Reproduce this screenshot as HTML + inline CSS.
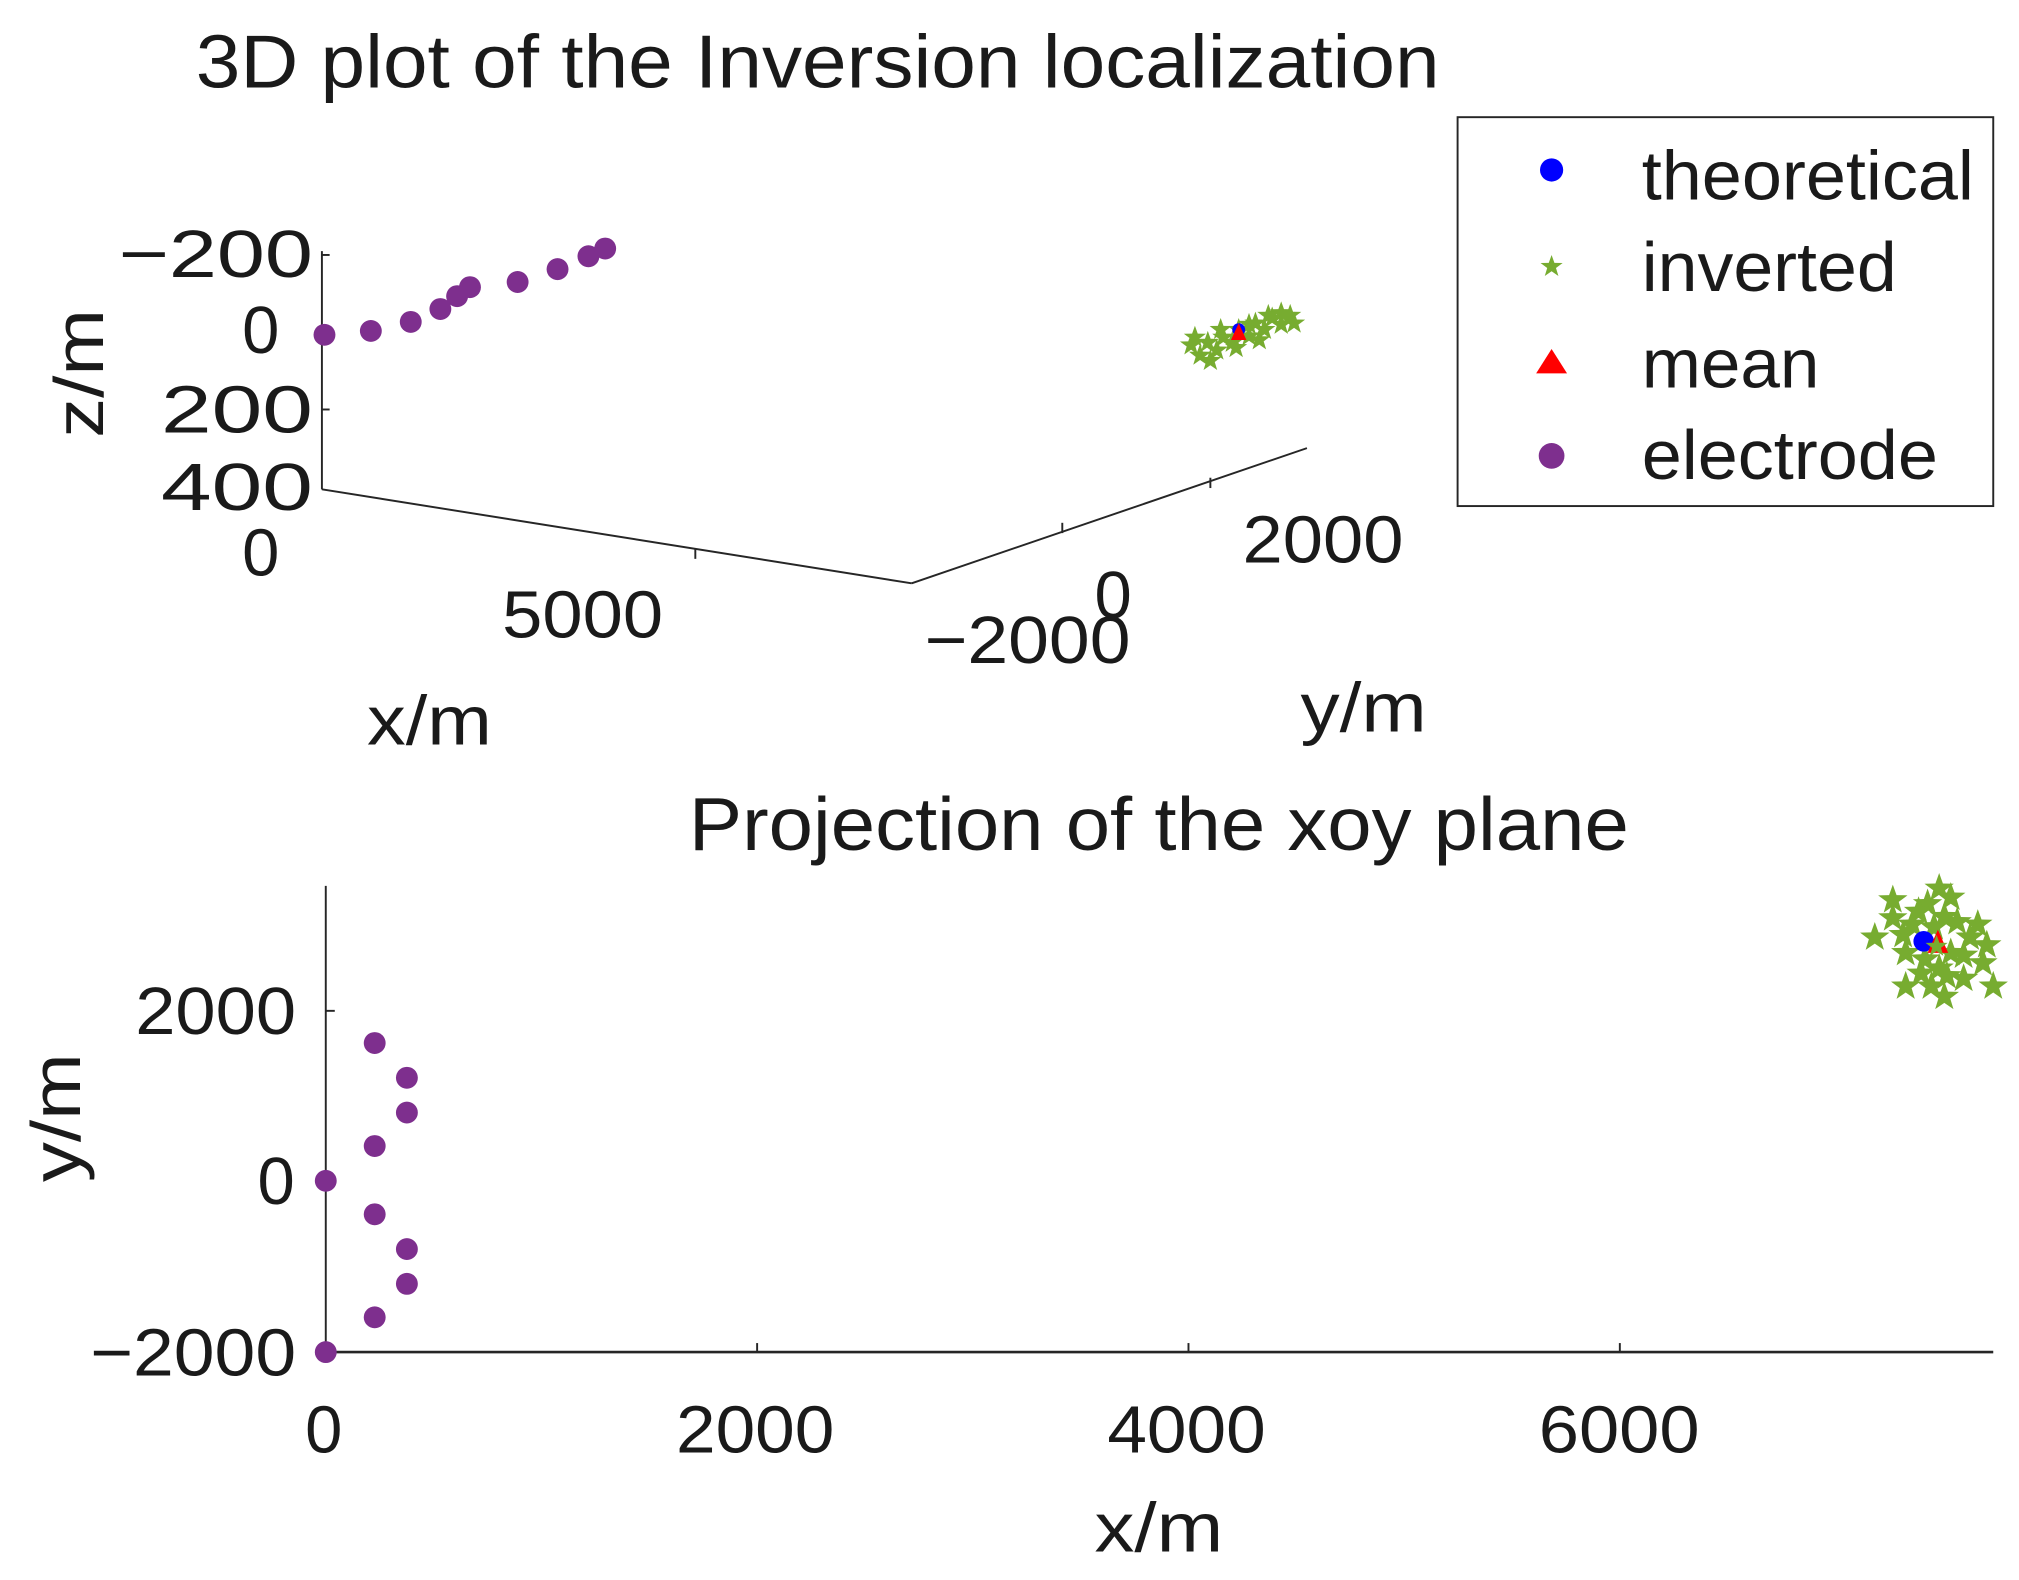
<!DOCTYPE html>
<html><head><meta charset="utf-8"><style>html,body{margin:0;padding:0;background:#fff}svg{display:block}</style></head>
<body>
<svg width="2019" height="1580" viewBox="0 0 1568 1227" preserveAspectRatio="none" xmlns="http://www.w3.org/2000/svg" font-family="Liberation Sans, sans-serif" fill="#1a1a1a">
<defs>
<polygon id="st" points="0,-12 2.9,-3.9 11.4,-3.7 4.6,1.4 7.1,9.7 0,4.8 -7.1,9.7 -4.6,1.4 -11.4,-3.7 -2.9,-3.9" fill="#77AC30"/>
<polygon id="sm" points="0,-9 2.2,-2.9 8.6,-2.8 3.4,1.1 5.3,7.3 0,3.6 -5.3,7.3 -3.4,1.1 -8.6,-2.8 -2.2,-2.9" fill="#77AC30"/>
</defs>
<text x="152" y="68" font-size="58" textLength="966" lengthAdjust="spacingAndGlyphs">3D plot of the Inversion localization</text>
<!-- legend -->
<rect x="1132" y="91" width="416" height="302" fill="#fff" stroke="#262626" stroke-width="1.5"/>
<circle cx="1205" cy="132" r="9" fill="#0000FF"/>
<use href="#sm" x="1205" y="207"/>
<polygon points="1205,271 1217,290 1193,290" fill="#FF0000"/>
<circle cx="1205" cy="354" r="10" fill="#7E2F8E"/>
<g font-size="54">
<text x="1275" y="155" textLength="258" lengthAdjust="spacingAndGlyphs">theoretical</text>
<text x="1275" y="226" textLength="198" lengthAdjust="spacingAndGlyphs">inverted</text>
<text x="1275" y="301" textLength="138" lengthAdjust="spacingAndGlyphs">mean</text>
<text x="1275" y="372" textLength="230" lengthAdjust="spacingAndGlyphs">electrode</text>
</g>
<!-- 3D axes -->
<g stroke="#262626" stroke-width="1.5" fill="none">
<line x1="250" y1="195" x2="250" y2="380"/>
<line x1="250" y1="380" x2="708" y2="453"/>
<line x1="708" y1="453" x2="1015" y2="348"/>
<line x1="250" y1="198" x2="256" y2="198"/><line x1="250" y1="257" x2="256" y2="257"/><line x1="250" y1="318" x2="256" y2="318"/>
<line x1="540" y1="426" x2="540" y2="434"/><line x1="825" y1="406" x2="825" y2="414"/><line x1="940" y1="371" x2="940" y2="379"/>
</g>
<g font-size="52" lengthAdjust="spacingAndGlyphs">
<text x="92" y="215" textLength="151" lengthAdjust="spacingAndGlyphs">−200</text>
<text x="188" y="274">0</text>
<text x="125" y="336" textLength="118" lengthAdjust="spacingAndGlyphs">200</text>
<text x="125" y="396" textLength="118" lengthAdjust="spacingAndGlyphs">400</text>
<text x="188" y="447">0</text>
<text x="390" y="495" textLength="125" lengthAdjust="spacingAndGlyphs">5000</text>
<text x="965" y="437" textLength="125" lengthAdjust="spacingAndGlyphs">2000</text>
<text x="850" y="480">0</text>
<text x="718" y="515" textLength="160" lengthAdjust="spacingAndGlyphs">−2000</text>
<text x="285" y="578" font-size="54" textLength="97" lengthAdjust="spacingAndGlyphs">x/m</text>
<text x="1010" y="568" font-size="54" textLength="98" lengthAdjust="spacingAndGlyphs">y/m</text>
<text transform="translate(80,340) rotate(-90)" font-size="54" textLength="100" lengthAdjust="spacingAndGlyphs">z/m</text>
</g>
<g fill="#7E2F8E">
<circle cx="252" cy="260" r="8.5"/><circle cx="288" cy="257" r="8.5"/><circle cx="319" cy="250" r="8.5"/><circle cx="342" cy="240" r="8.5"/><circle cx="355" cy="230" r="8.5"/><circle cx="365" cy="223" r="8.5"/><circle cx="402" cy="219" r="8.5"/><circle cx="433" cy="209" r="8.5"/><circle cx="457" cy="199" r="8.5"/><circle cx="470" cy="193" r="8.5"/>
</g>
<g>
<use href="#sm" x="925" y="268"/><use href="#sm" x="932" y="276"/><use href="#sm" x="938" y="266"/><use href="#sm" x="945" y="272"/><use href="#sm" x="950" y="262"/><use href="#sm" x="957" y="266"/><use href="#sm" x="962" y="256"/><use href="#sm" x="970" y="261"/><use href="#sm" x="975" y="251"/><use href="#sm" x="982" y="256"/><use href="#sm" x="988" y="247"/><use href="#sm" x="995" y="252"/><use href="#sm" x="1002" y="245"/><use href="#sm" x="1005" y="251"/><use href="#sm" x="985" y="245"/><use href="#sm" x="940" y="280"/><use href="#sm" x="928" y="262"/><use href="#sm" x="948" y="256"/><use href="#sm" x="970" y="252"/><use href="#sm" x="978" y="264"/><use href="#sm" x="995" y="243"/><use href="#sm" x="960" y="270"/>
</g>
<circle cx="962" cy="256" r="5" fill="#0000FF"/>
<polygon points="962,251 968,264 956,264" fill="#FF0000"/>
<!-- 2D plot -->
<text x="535" y="660" font-size="58" textLength="730" lengthAdjust="spacingAndGlyphs">Projection of the xoy plane</text>
<g stroke="#262626" stroke-width="1.5">
<line x1="253" y1="688" x2="253" y2="1050"/>
<line x1="253" y1="1050" x2="1548" y2="1050" stroke-width="2"/>
<line x1="253" y1="785" x2="260" y2="785"/><line x1="253" y1="917" x2="260" y2="917"/>
<line x1="588" y1="1050" x2="588" y2="1043"/><line x1="923" y1="1050" x2="923" y2="1043"/><line x1="1258" y1="1050" x2="1258" y2="1043"/>
</g>
<g font-size="52">
<text x="105" y="803" textLength="125" lengthAdjust="spacingAndGlyphs">2000</text>
<text x="200" y="935">0</text>
<text x="70" y="1068" textLength="160" lengthAdjust="spacingAndGlyphs">−2000</text>
<text x="237" y="1128">0</text>
<text x="525" y="1128" textLength="123" lengthAdjust="spacingAndGlyphs">2000</text>
<text x="860" y="1128" textLength="123" lengthAdjust="spacingAndGlyphs">4000</text>
<text x="1195" y="1128" textLength="125" lengthAdjust="spacingAndGlyphs">6000</text>
<text x="850" y="1205" font-size="54" textLength="100" lengthAdjust="spacingAndGlyphs">x/m</text>
<text transform="translate(62,918) rotate(-90)" font-size="54" textLength="100" lengthAdjust="spacingAndGlyphs">y/m</text>
</g>
<g fill="#7E2F8E">
<circle cx="253" cy="917" r="8.5"/><circle cx="291" cy="810" r="8.5"/><circle cx="316" cy="837" r="8.5"/><circle cx="316" cy="864" r="8.5"/><circle cx="291" cy="890" r="8.5"/><circle cx="291" cy="943" r="8.5"/><circle cx="316" cy="970" r="8.5"/><circle cx="316" cy="997" r="8.5"/><circle cx="291" cy="1023" r="8.5"/><circle cx="253" cy="1050" r="8.5"/>
</g>
<g>
<use href="#st" x="1470" y="699"/><use href="#st" x="1506" y="690"/><use href="#st" x="1497" y="702"/><use href="#st" x="1515" y="697"/><use href="#st" x="1490" y="708"/><use href="#st" x="1470" y="713"/><use href="#st" x="1456" y="728"/><use href="#st" x="1478" y="726"/><use href="#st" x="1480" y="740"/><use href="#st" x="1520" y="716"/><use href="#st" x="1536" y="718"/><use href="#st" x="1543" y="734"/><use href="#st" x="1540" y="748"/><use href="#st" x="1525" y="742"/><use href="#st" x="1506" y="752"/><use href="#st" x="1492" y="756"/><use href="#st" x="1500" y="766"/><use href="#st" x="1510" y="774"/><use href="#st" x="1480" y="766"/><use href="#st" x="1525" y="760"/><use href="#st" x="1548" y="766"/><use href="#st" x="1515" y="740"/><use href="#st" x="1485" y="718"/><use href="#st" x="1510" y="712"/><use href="#st" x="1530" y="728"/><use href="#st" x="1495" y="745"/><use href="#st" x="1512" y="758"/><use href="#st" x="1502" y="720"/>
</g>
<circle cx="1494" cy="731" r="8" fill="#0000FF"/>
<polygon points="1505,722 1513,740 1497,740" fill="#FF0000"/>
<use href="#sm" x="1504" y="735"/>
</svg>
</body></html>
